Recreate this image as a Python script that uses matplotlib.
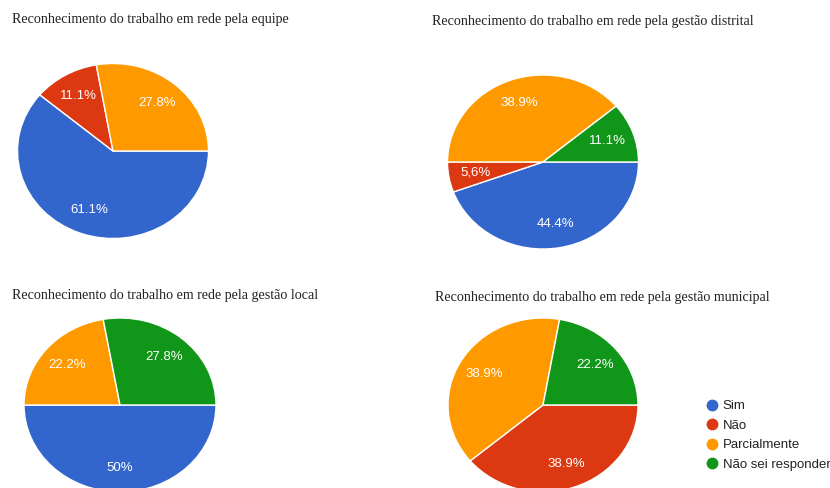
import matplotlib
matplotlib.use('Agg')
import matplotlib.pyplot as plt
from matplotlib.lines import Line2D

categories = ['Sim', 'Não', 'Parcialmente', 'Não sei responder']
colors = ['#3366CC', '#DC3912', '#FF9900', '#109618']

titles = [
    'Reconhecimento do trabalho em rede pela equipe',
    'Reconhecimento do trabalho em rede pela gestão distrital',
    'Reconhecimento do trabalho em rede pela gestão local',
    'Reconhecimento do trabalho em rede pela gestão municipal',
]

equipe = [61.1, 11.1, 27.8, 0]
equipe_labels = ['61.1%', '11.1%', '27.8%', '']
distrital = [44.4, 5.6, 38.9, 11.1]
distrital_labels = ['44.4%', '5,6%', '38.9%', '11.1%']
local = [50, 0, 22.2, 27.8]
local_labels = ['50%', '', '22.2%', '27.8%']
municipal = [0, 38.9, 38.9, 22.2]
municipal_labels = ['', '38.9%', '38.9%', '22.2%']

W, H = 830, 488
fig = plt.figure(figsize=(W / 100, H / 100), dpi=100)
fig.patch.set_facecolor('white')

# (center x, center y, radius x, radius y) in pixels, title (x, y)
layout = [
    ((113, 151, 95.5, 87.5), (12, 20)),
    ((543, 162, 95.5, 87.0), (432, 22)),
    ((120, 405, 96.0, 87.0), (12, 295)),
    ((543, 405, 95.0, 87.0), (435, 298)),
]
datasets = [(equipe, equipe_labels), (distrital, distrital_labels),
            (local, local_labels), (municipal, municipal_labels)]

for (geom, tpos), (vals, lbls), title in zip(layout, datasets, titles):
    cx, cy, rx, ry = geom
    ax = fig.add_axes([(cx - rx) / W, 1 - (cy + ry) / H, 2 * rx / W, 2 * ry / H])
    v = [x for x in vals if x > 0]
    c = [col for x, col in zip(vals, colors) if x > 0]
    l = [lb for x, lb in zip(vals, lbls) if x > 0]
    it = iter(l)
    wedges, _, autotexts = ax.pie(
        v, colors=c, startangle=0, counterclock=False, radius=1,
        autopct=lambda p: next(it), pctdistance=0.72,
        wedgeprops=dict(edgecolor='white', linewidth=1),
        textprops=dict(color='white', fontsize=9.5, family='Liberation Sans'))
    for w in wedges:
        w.set_clip_on(False)
    ax.set_aspect('auto')
    ax.set_xlim(-1, 1)
    ax.set_ylim(-1, 1)
    ax.axis('off')
    fig.text(tpos[0] / W, 1 - tpos[1] / H, title, ha='left', va='center',
             fontsize=10.1, family='Liberation Serif', color='#222222')

handles = [Line2D([0], [0], marker='o', linestyle='none', markersize=7.5,
                  markerfacecolor=col, markeredgecolor=col) for col in colors]
leg = fig.legend(handles, categories, loc='upper left',
                 bbox_to_anchor=(707 / W, 1 - 400 / H), frameon=False,
                 prop=dict(family='Liberation Sans', size=9.5),
                 handlelength=0.8, handletextpad=0.4, labelspacing=0.55,
                 borderaxespad=0, borderpad=0)
for t in leg.get_texts():
    t.set_color('#222222')

fig.savefig('out.png', dpi=100, facecolor='white')
